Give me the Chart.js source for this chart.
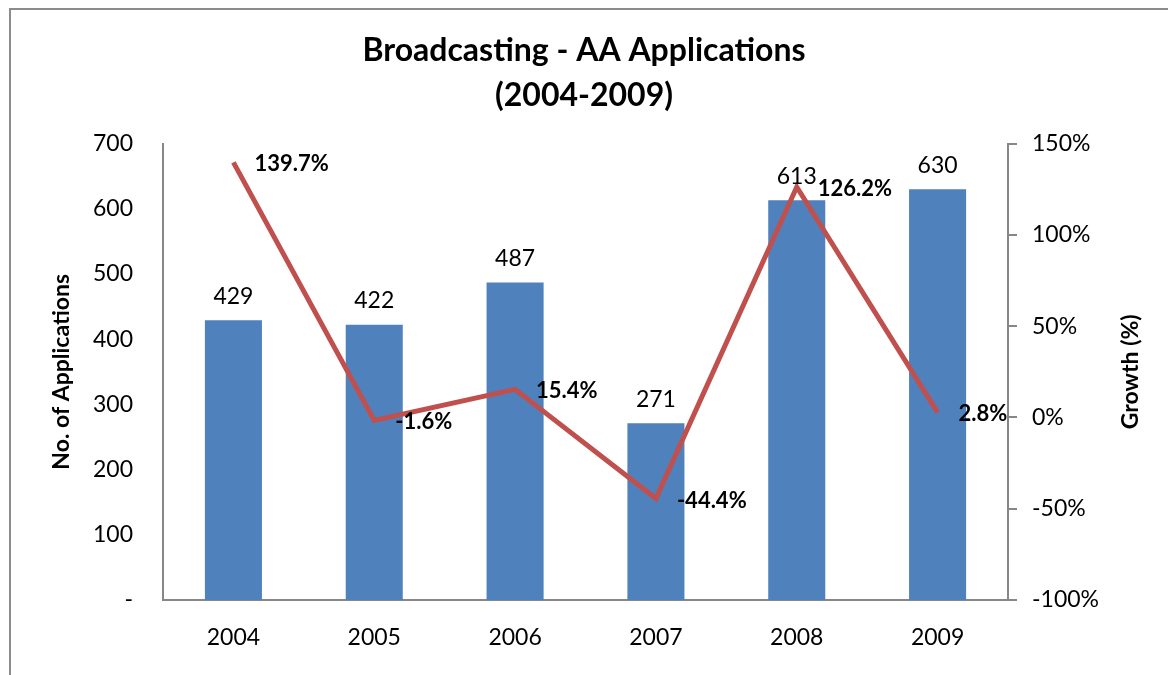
<!DOCTYPE html>
<html>
<head>
<meta charset="utf-8">
<title>Broadcasting - AA Applications</title>
<script src="https://cdn.jsdelivr.net/npm/chart.js@4.4.1/dist/chart.umd.min.js"></script>
<style>
    body { margin: 0; background: #fff; overflow: hidden; }
    #frame {
        position: absolute; left: 9px; top: 8px; width: 1200px; height: 700px;
        border: 2px solid #8c8c8c; box-sizing: border-box;
    }
    #chart { position: absolute; left: 0; top: 0; }
</style>
</head>
<body>
<div id="frame"></div>
<canvas id="chart" width="1168" height="675"></canvas>
<script>
var years = ['2004', '2005', '2006', '2007', '2008', '2009'];
var applications = [429, 422, 487, 271, 613, 630];
var growth = [139.7, -1.6, 15.4, -44.4, 126.2, 2.8];

var titleLines = ['Broadcasting - AA Applications', '(2004-2009)'];
var leftCaption = 'No. of Applications';
var rightCaption = 'Growth (%)';

var FONT = 'Lato, "Liberation Sans", sans-serif';
var AXIS_GREY = '#878787';

// value labels: counts above the bars, bold growth % to the right of each point
var valueLabels = {
    id: 'valueLabels',
    afterDatasetsDraw: function (chart) {
        var ctx = chart.ctx;
        ctx.save();
        ctx.fillStyle = '#000';
        ctx.textBaseline = 'middle';

        ctx.font = '23px ' + FONT;
        ctx.textAlign = 'center';
        chart.getDatasetMeta(1).data.forEach(function (bar, i) {
            ctx.fillText(applications[i], bar.x, bar.y - 24);
        });

        ctx.font = 'bold 22px ' + FONT;
        ctx.textAlign = 'left';
        chart.getDatasetMeta(0).data.forEach(function (pt, i) {
            ctx.fillText(growth[i].toFixed(1) + '%', pt.x + 21, pt.y + 2);
        });
        ctx.restore();
    }
};

// both axis captions read bottom-to-top
var axisCaptions = {
    id: 'axisCaptions',
    afterDraw: function (chart) {
        var ctx = chart.ctx;
        var mid = (chart.chartArea.top + chart.chartArea.bottom) / 2;
        ctx.save();
        ctx.fillStyle = '#000';
        ctx.font = 'bold 23px ' + FONT;
        ctx.textAlign = 'center';
        ctx.textBaseline = 'middle';
        [[62, leftCaption], [1131, rightCaption]].forEach(function (c) {
            ctx.save();
            ctx.translate(c[0], mid);
            ctx.rotate(-Math.PI / 2);
            ctx.fillText(c[1], 0, 0);
            ctx.restore();
        });
        ctx.restore();
    }
};

var chart = new Chart(document.getElementById('chart'), {
    data: {
        labels: years,
        datasets: [{
            type: 'line',
            label: 'Growth',
            data: growth,
            yAxisID: 'y1',
            borderColor: '#C0504D',
            borderWidth: 5,
            pointRadius: 0,
            tension: 0,
            order: 0
        },
        {
            type: 'bar',
            label: 'Applications',
            data: applications,
            yAxisID: 'y',
            backgroundColor: '#4F81BD',
            barPercentage: 0.405,
            categoryPercentage: 1,
            order: 1
        }]
    },
    options: {
        responsive: false,
        animation: false,
        layout: { padding: { left: 0, right: 0, top: 0, bottom: 0 } },
        plugins: {
            legend: { display: false },
            tooltip: { enabled: false },
            title: {
                display: true,
                text: titleLines,
                color: '#000',
                font: { family: FONT, size: 32, weight: 'bold', lineHeight: 1.4 },
                padding: { top: 28, bottom: 26 }
            }
        },
        scales: {
            x: {
                grid: { display: false, drawTicks: false },
                border: { display: true, color: AXIS_GREY, width: 2 },
                ticks: { color: '#000', padding: 24, font: { family: FONT, size: 23 } },
                afterFit: function (s) { s.height = 75; }
            },
            y: {
                position: 'left',
                min: 0, max: 700,
                grid: { display: false, drawTicks: false },
                border: { display: true, color: AXIS_GREY, width: 2 },
                ticks: {
                    stepSize: 100, padding: 30, color: '#000',
                    font: { family: FONT, size: 23 },
                    callback: function (v) { return v === 0 ? '-' : v; }
                },
                afterFit: function (s) { s.width = 163; }
            },
            y1: {
                position: 'right',
                min: -100, max: 150,
                grid: { drawOnChartArea: false, drawTicks: true, tickLength: 9, color: AXIS_GREY, lineWidth: 2 },
                border: { display: true, color: AXIS_GREY, width: 2 },
                ticks: {
                    stepSize: 50, padding: 15, color: '#000',
                    font: { family: FONT, size: 23 },
                    callback: function (v) { return v + '%'; }
                },
                afterFit: function (s) { s.width = 160; }
            }
        }
    },
    plugins: [valueLabels, axisCaptions]
});
</script>
</body>
</html>
